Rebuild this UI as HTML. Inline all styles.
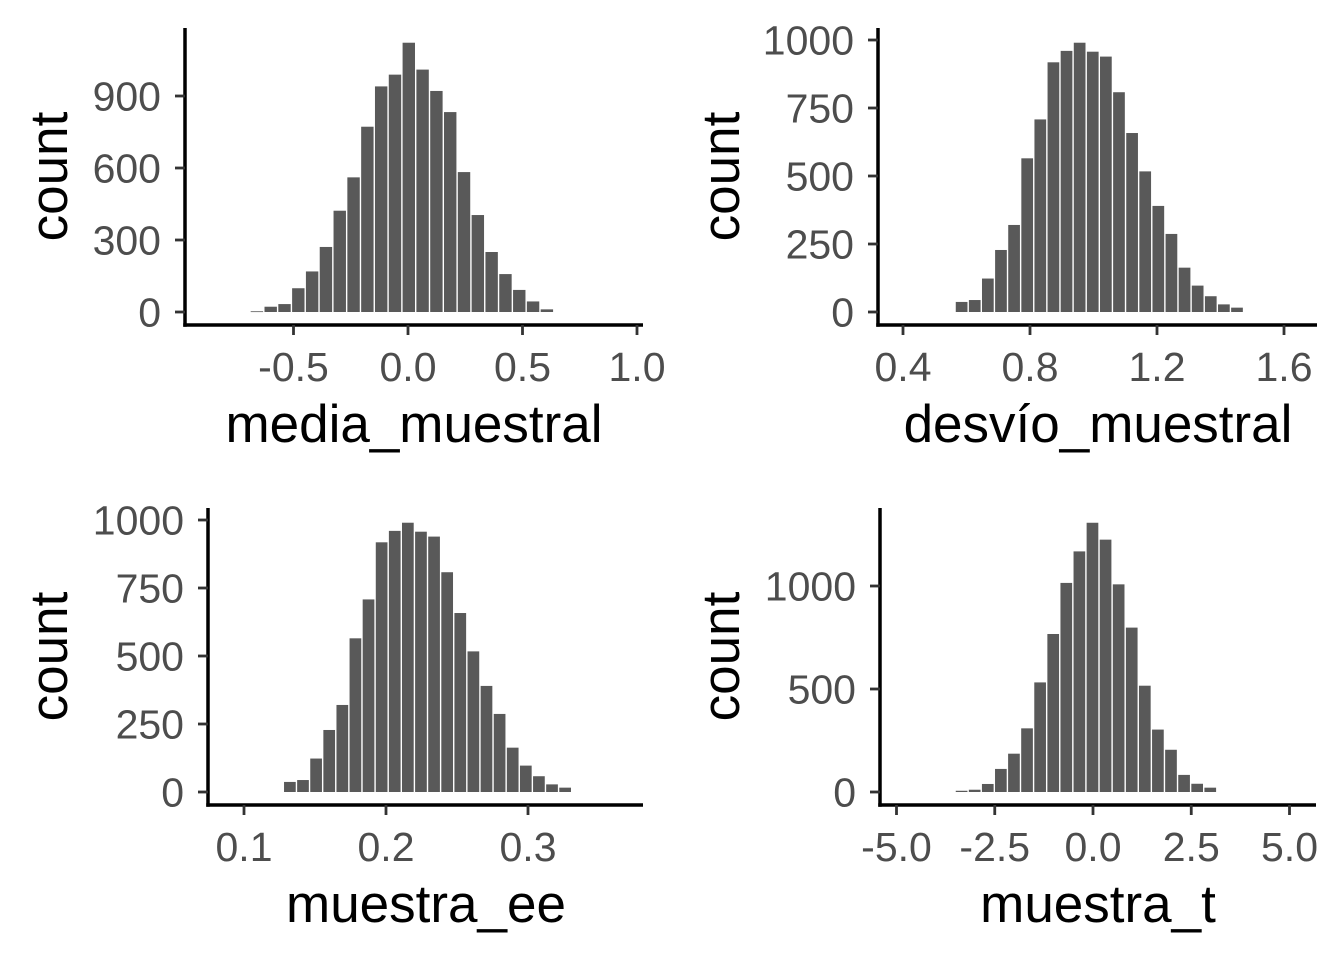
<!DOCTYPE html>
<html><head><meta charset="utf-8"><style>
body{margin:0;background:#fff}
svg text{font-family:"Liberation Sans",sans-serif}
</style></head><body>
<svg id="c" width="1344" height="960"></svg>
<script>
// Panel 1: media_muestral
const p1Counts=[3,22,33,99,169,271,422,561,772,940,989,1122,1010,921,833,583,404,250,158,92,44,11];
const p1Start=-0.69, p1Bw=0.0603;
const p1XTicks=[-0.5,0.0,0.5,1.0], p1XLabels=["-0.5","0.0","0.5","1.0"];
const p1YTicks=[0,300,600,900], p1YLabels=["0","300","600","900"];
// Panel 2: desvío_muestral
const p2Counts=[37,44,123,228,320,565,708,918,960,990,957,939,808,658,517,390,287,163,97,58,28,16];
const p2Start=0.564, p2Bw=0.0413;
const p2XTicks=[0.4,0.8,1.2,1.6], p2XLabels=["0.4","0.8","1.2","1.6"];
const p2YTicks=[0,250,500,750,1000], p2YLabels=["0","250","500","750","1000"];
// Panel 3: muestra_ee
const p3Counts=[37,44,123,228,320,565,708,918,960,990,957,939,808,658,517,390,287,163,97,58,28,16];
const p3Start=0.1277, p3Bw=0.00923;
const p3XTicks=[0.1,0.2,0.3], p3XLabels=["0.1","0.2","0.3"];
const p3YTicks=[0,250,500,750,1000], p3YLabels=["0","250","500","750","1000"];
// Panel 4: muestra_t
const p4Counts=[6,11,39,112,186,309,532,767,1015,1168,1307,1225,1008,798,516,303,205,83,40,21];
const p4Start=-3.51, p4Bw=0.333;
const p4XTicks=[-5,-2.5,0,2.5,5], p4XLabels=["-5.0","-2.5","0.0","2.5","5.0"];
const p4YTicks=[0,500,1000], p4YLabels=["0","500","1000"];

const NS="http://www.w3.org/2000/svg";
const svg=document.getElementById('c');
function mk(tag,attrs,parent){const e=document.createElementNS(NS,tag);for(const k in attrs)e.setAttribute(k,attrs[k]);(parent||svg).appendChild(e);return e;}

function panel(cfg){
  const g=mk('g',{});
  
  
  const xs=v=>cfg.x0px+(v-cfg.x0v)*cfg.xk;
  const ys=v=>cfg.base-v*cfg.yk;
  cfg.counts.forEach((c,i)=>{
    const a=xs(cfg.start+i*cfg.bw), b=xs(cfg.start+(i+1)*cfg.bw);
    const r=mk('rect',{x:a+0.7,y:ys(c),width:b-a-1.4,height:Math.max(0.8,ys(0)-ys(c)),fill:'#595959'},g);
    
    
  });
  const ya=mk('line',{x1:cfg.axX,y1:cfg.top,x2:cfg.axX,y2:cfg.axY+1.75,stroke:'#000','stroke-width':3.5},g);
  
  
  const xa=mk('line',{x1:cfg.axX-1.75,y1:cfg.axY,x2:cfg.right,y2:cfg.axY,stroke:'#000','stroke-width':3.5},g);
  
  
  cfg.yt.forEach((v,i)=>{
    const y=ys(v);
    mk('line',{x1:cfg.axX-10,y1:y,x2:cfg.axX,y2:y,stroke:'#333','stroke-width':2.8},g);
    const t=mk('text',{x:cfg.axX-24,y:y+14.5,'text-anchor':'end','font-size':41,fill:'#4d4d4d'},g);
    t.textContent=cfg.yl[i];
    
    
  });
  cfg.xt.forEach((v,i)=>{
    const x=xs(v);
    mk('line',{x1:x,y1:cfg.axY,x2:x,y2:cfg.axY+10,stroke:'#333','stroke-width':2.8},g);
    const t=mk('text',{x:x,y:cfg.axY+56,'text-anchor':'middle','font-size':41,fill:'#4d4d4d'},g);
    t.textContent=cfg.xl[i];
    
    
  });
  const xt=mk('text',{x:cfg.titleX,y:cfg.axY+117,'text-anchor':'middle','font-size':53,fill:'#000'},g);
  xt.textContent=cfg.title;
  
  
  const yt=mk('text',{x:0,y:0,'text-anchor':'middle','font-size':53,fill:'#000',transform:`translate(${cfg.ytX},${(cfg.top+cfg.axY)/2}) rotate(-90)`},g);
  yt.textContent='count';
  
  
}

panel({name:'panel-media-muestral',counts:p1Counts,start:p1Start,bw:p1Bw,x0v:0,x0px:408,xk:229,base:312,yk:0.24,
  axX:185,axY:325,top:28,right:643,xt:p1XTicks,xl:p1XLabels,yt:p1YTicks,yl:p1YLabels,title:'media_muestral',titleX:414,ytX:67});
panel({name:'panel-desvio-muestral',counts:p2Counts,start:p2Start,bw:p2Bw,x0v:0.4,x0px:903,xk:317.5,base:312,yk:0.272,
  axX:878,axY:325,top:28,right:1317,xt:p2XTicks,xl:p2XLabels,yt:p2YTicks,yl:p2YLabels,title:'desvío_muestral',titleX:1098,ytX:739});
panel({name:'panel-muestra-ee',counts:p3Counts,start:p3Start,bw:p3Bw,x0v:0.1,x0px:244,xk:1420,base:792,yk:0.272,
  axX:208,axY:805,top:508,right:643,xt:p3XTicks,xl:p3XLabels,yt:p3YTicks,yl:p3YLabels,title:'muestra_ee',titleX:426,ytX:67});
panel({name:'panel-muestra-t',counts:p4Counts,start:p4Start,bw:p4Bw,x0v:0,x0px:1093,xk:39.3,base:792,yk:0.206,
  axX:880,axY:805,top:508,right:1316,xt:p4XTicks,xl:p4XLabels,yt:p4YTicks,yl:p4YLabels,title:'muestra_t',titleX:1098,ytX:739});
</script>
</body></html>
